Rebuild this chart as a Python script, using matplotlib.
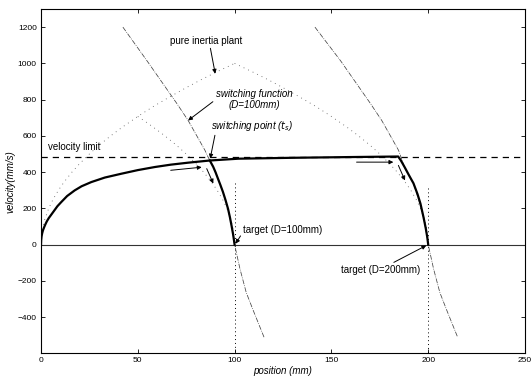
import matplotlib
matplotlib.use("Agg")
import matplotlib.pyplot as plt

plt.rcParams["font.family"] = ["Liberation Sans", "DejaVu Sans"]

# main trajectory (solid, thick): start -> velocity limit -> D=200 target
traj_x = [0, 0.1, 0.3, 0.6, 1, 1.6, 2.2, 3, 4, 5.3, 7, 8.5, 10.5, 13.5, 17.4, 21, 26, 33,
          41.5, 50, 58.8, 67, 76, 87.2, 102, 130, 160, 184.5,
          186, 188, 190, 192.4, 194.5, 196, 197.6, 198.7, 199.5, 200]
traj_v = [0, 25, 45, 62, 78, 95, 110, 128, 146, 165, 190, 212, 235, 268, 299, 322, 345, 370,
          391, 411, 428, 441, 452, 464, 474, 479, 483, 486,
          462, 424, 384, 338, 278, 226, 150, 92, 42, 0]
# branch after switching point for D=100
br_x = [87.2, 88, 89, 90.2, 91.4, 92.7, 94, 95.3, 96.6, 97.6, 98.5, 99.3, 100]
br_v = [464, 448, 428, 398, 364, 328, 290, 246, 198, 150, 100, 52, 0]

# switching functions (thin dash-dot)
sw1_x = [42.3, 54.7, 70.2, 76, 84.7, 86.3, 89, 91.4, 94, 96.6, 98.5, 100, 102.8, 106, 109.5, 115.2]
sw1_v = [1200, 1015, 778, 685, 520, 483, 430, 364, 290, 198, 100, 0, -135, -264, -360, -511]
sw2_x = [141.5, 154.7, 170.2, 176, 184.7, 188, 192.4, 195, 197.6, 199, 200, 202.8, 206, 209.5, 215.2]
sw2_v = [1200, 1015, 778, 685, 520, 420, 338, 250, 150, 70, 0, -135, -264, -360, -511]

# pure inertia plant (dotted)
rise_x = [0, 1, 2, 4, 6, 9, 12, 16, 20, 25, 30, 36, 42, 50, 58, 66, 74, 82, 90, 100]
rise_v = [0, 100, 141, 200, 245, 300, 346, 400, 447, 500, 548, 600, 648, 707, 762, 812, 860, 906, 949, 1000]
fall200_x = [100, 110, 118, 126, 134, 142, 150, 158, 164, 170, 175, 180, 184, 188, 191, 194, 196, 198, 199, 200]
fall200_v = [1000, 949, 906, 860, 812, 762, 707, 648, 600, 548, 500, 447, 400, 346, 300, 245, 200, 141, 100, 0]
fall100_x = [50, 55, 60, 64, 70, 75, 80, 84, 88, 91, 94, 96, 98, 99, 100]
fall100_v = [707, 671, 632, 600, 548, 500, 447, 400, 346, 300, 245, 200, 141, 100, 0]

v_limit = 486
targets = [100, 200]
xticks = [0, 50, 100, 150, 200, 250]
yticks = [-400, -200, 0, 200, 400, 600, 800, 1000, 1200]

fig = plt.figure(figsize=(5.31, 3.83), dpi=100)
ax = fig.add_axes([0.0772, 0.0775, 0.9115, 0.899])

dot = (0, (1, 5))
dc = "#555555"
ax.plot(rise_x, rise_v, color=dc, lw=0.6, ls=dot)
ax.plot(fall200_x, fall200_v, color=dc, lw=0.6, ls=dot)
ax.plot(fall100_x, fall100_v, color=dc, lw=0.6, ls=dot)
ax.plot([targets[0], targets[0]], [340, -600], color="k", lw=0.7, ls=(0, (1, 3)))
ax.plot([targets[1], targets[1]], [315, -600], color="k", lw=0.7, ls=(0, (1, 3)))

ax.plot(sw1_x, sw1_v, color="#444444", lw=0.55, ls="-.")
ax.plot(sw2_x, sw2_v, color="#444444", lw=0.55, ls="-.")

ax.axhline(0, color="#333333", lw=0.8)
ax.plot([0, 250], [v_limit, v_limit], color="k", lw=0.9, ls=(0, (5, 4)))

ax.plot(traj_x, traj_v, color="k", lw=1.6, solid_joinstyle="round")
ax.plot(br_x, br_v, color="k", lw=1.6, solid_joinstyle="round")

aprops = dict(arrowstyle="-|>", lw=0.7, color="k", mutation_scale=6, shrinkA=0, shrinkB=0)
# direction arrows along trajectory
for (x0, y0), (x1, y1) in [((67, 410), (83, 427)), ((85.6, 419), (89, 337)),
                           ((163, 455), (182, 455)), ((184.6, 437), (188, 354))]:
    ax.annotate("", xy=(x1, y1), xytext=(x0, y0), arrowprops=aprops)

fs = 7
ax.annotate("pure inertia plant", xy=(90, 943), xytext=(66.7, 1126), fontsize=fs,
            va="center", ha="left", arrowprops=dict(aprops, relpos=(0.55, 0)))
ax.annotate("switching function\n(D=100mm)", xy=(76, 685), xytext=(110, 800), fontsize=fs,
            style="italic", va="center", ha="center", linespacing=1.15,
            arrowprops=dict(aprops, relpos=(0.0, 0.5)))
ax.annotate("switching point ($t_s$)", xy=(87.4, 475), xytext=(88, 657), fontsize=fs,
            style="italic", va="center", ha="left",
            arrowprops=dict(aprops, relpos=(0.05, 0.0)))
ax.text(3.6, 536, "velocity limit", fontsize=fs, va="center", ha="left")
ax.annotate("target (D=100mm)", xy=(100.5, 5), xytext=(104.5, 83), fontsize=fs,
            va="center", ha="left", arrowprops=dict(aprops, relpos=(0.0, 0.3)))
ax.annotate("target (D=200mm)", xy=(199, -5), xytext=(155, -141), fontsize=fs,
            va="center", ha="left", arrowprops=dict(aprops, relpos=(0.55, 0.8)))

ax.set_xlim(0, 250)
ax.set_ylim(-600, 1300)
ax.set_xticks(xticks)
ax.set_yticks(yticks)
ax.tick_params(direction="in", length=3, width=0.6, labelsize=6, top=True, right=True, pad=3)
for s in ax.spines.values():
    s.set_linewidth(0.8)
ax.set_xlabel("position (mm)", fontsize=7, style="italic", labelpad=1)
ax.set_ylabel("velocity(mm/s)", fontsize=7, style="italic", labelpad=2)

fig.savefig("out.png", dpi=100)
